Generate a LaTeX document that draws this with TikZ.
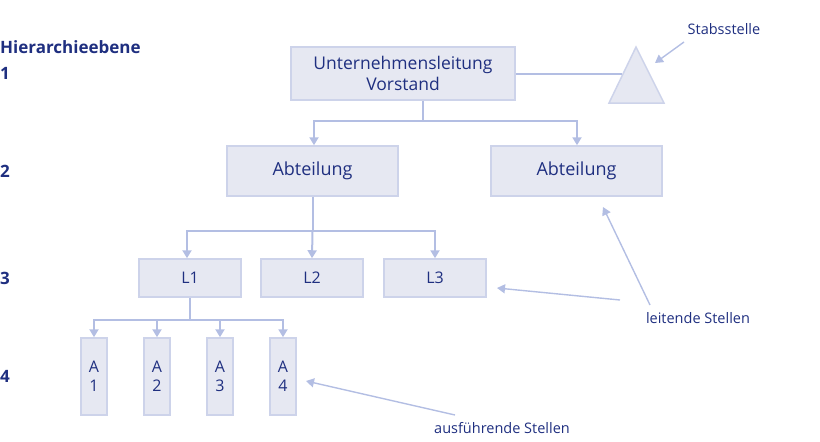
\documentclass[tikz,border=0pt]{standalone}
\usepackage{fontspec}
\setmainfont{Open Sans}
\usetikzlibrary{arrows.meta}
\definecolor{bfill}{HTML}{E6E8F2}
\definecolor{bdraw}{HTML}{CDD3EA}
\definecolor{lcol}{HTML}{B3BEE3}
\definecolor{tcol}{HTML}{1F2F80}
\begin{document}
\begin{tikzpicture}[x=1pt,y=-1pt,
  box/.style={draw=bdraw,line width=1.5pt,fill=bfill,text=tcol,inner sep=0pt,align=center},
  conn/.style={draw=lcol,line width=2pt},
  arr/.style={conn,-{Triangle[length=8pt,width=9pt]}},
  lbl/.style={text=tcol,font=\bfseries\fontsize{17}{20}\selectfont,anchor=west,inner sep=0pt},
  note/.style={text=tcol,font=\fontsize{14.5}{17}\selectfont}]
\useasboundingbox (0,0) rectangle (820,442);
\node[box,minimum width=224pt,minimum height=53pt,font=\fontsize{17.5}{21}\selectfont] (ul) at (403,73.5) {Unternehmensleitung\\Vorstand};
\fill[bfill,draw=bdraw,line width=1.5pt] (609,103) -- (636,47) -- (664,103) -- cycle;
\coordinate (tl) at (622,73.5);
\node[box,minimum width=171pt,minimum height=50pt,font=\fontsize{18}{21}\selectfont] (a1) at (312.5,171) {Abteilung};
\node[box,minimum width=171pt,minimum height=50pt,font=\fontsize{18}{21}\selectfont] (a2) at (576.5,171) {Abteilung};
\foreach \n/\x/\t in {l1/190/L1,l2/312/L2,l3/435/L3}
  \node[box,minimum width=102pt,minimum height=38pt,font=\fontsize{16}{19}\selectfont] (\n) at (\x,278) {\t};
\foreach \i/\x in {1/94,2/157,3/220,4/283}
  \node[box,minimum width=26pt,minimum height=77pt,font=\fontsize{16}{19}\selectfont] (e\i) at (\x,376.5) {A\\\i};
\draw[conn] (ul.east) -- (tl);
\draw[conn] (ul.south -| 423,0) -- (423,121);
\draw[conn] (314,121) -- (577,121);
\draw[arr] (314,120) -- (a1.north -| 314,0);
\draw[arr] (577,120) -- (a2.north -| 577,0);
\draw[conn] (a1.south) -- (312.5,231);
\draw[conn] (187,231) -- (435,231);
\draw[arr] (187,230) -- (l1.north -| 187,0);
\draw[arr] (312.5,231) -- (l2.north);
\draw[arr] (435,230) -- (l3.north);
\draw[conn] (l1.south) -- (190,320);
\draw[conn] (94,320) -- (283,320);
\foreach \i/\x in {1/94,2/157,3/220,4/283} \draw[arr] (\x,319) -- (e\i.north);
\node[note] (stab) at (724,29) {Stabsstelle};
\node[note] (leit) at (698,318) {leitende Stellen};
\node[note] (ausf) at (502,428) {ausführende Stellen};
\coordinate (st) at (655,63);
\coordinate (a2t) at (603,207);
\coordinate (l3t) at (497,288);
\coordinate (e4t) at (306,381);
\draw[arr,line width=1.4pt] (684,42) -- (st);
\draw[arr,line width=1.4pt] (650,305) -- (a2t);
\draw[arr,line width=1.4pt] (620,300) -- (l3t);
\draw[arr,line width=1.4pt] (455,415) -- (e4t);
\node[lbl] (h) at (0,47) {Hierarchieebene};
\node[lbl] (n1) at (0,73) {1};
\node[lbl] (n2) at (0,171) {2};
\node[lbl] (n3) at (0,278) {3};
\node[lbl] (n4) at (0,376) {4};
\end{tikzpicture}
\end{document}
